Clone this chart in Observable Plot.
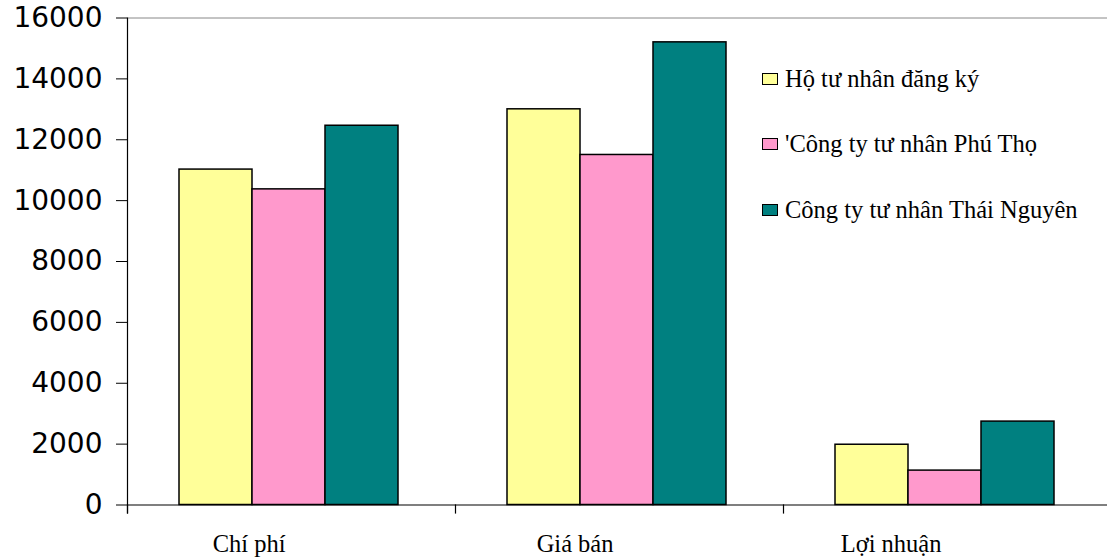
<!DOCTYPE html>
<html><head><meta charset="utf-8">
<script src="https://cdn.jsdelivr.net/npm/d3@7"></script>
<script src="https://cdn.jsdelivr.net/npm/@observablehq/plot@0.6"></script>
<style>
html,body{margin:0;padding:0;background:#fff;overflow:hidden}
#wrap{position:relative;width:1107px;height:560px;overflow:hidden}
#legend{position:absolute;left:762px;top:46px;font-family:"Liberation Serif","Times New Roman",serif;font-size:24.5px;color:#000}
.row{display:flex;align-items:center;height:65.5px;white-space:pre}
.sw{width:14px;height:10px;border:1.5px solid #000;margin-right:7px;flex:none}
</style></head><body><div id="wrap"><div id="legend"></div></div>
<script>
const categories = ["Chí phí", "Giá bán", "Lợi nhuận"];
const series = ["Hộ tư nhân đăng ký", "'Công ty tư nhân Phú Thọ", "Công ty tư nhân Thái Nguyên"];
const valuesHo = [11020, 13000, 1980];
const valuesPhuTho = [10370, 11500, 1130];
const valuesThaiNguyen = [12460, 15200, 2740];
const yTicks = [0, 2000, 4000, 6000, 8000, 10000, 12000, 14000, 16000];
const colors = ["#FFFF99", "#FF99CC", "#008080"];

const seriesValues = [valuesHo, valuesPhuTho, valuesThaiNguyen];
const data = [];
categories.forEach((c, i) => series.forEach((s, j) => data.push({category: c, series: s, value: seriesValues[j][i]})));

const W = 1107, H = 560, mT = 17.5, mB = 55.5, mL = 126, mR = -5;
const innerH = H - mT - mB;

const chart = Plot.plot({
  width: W, height: H,
  marginLeft: mL, marginRight: mR, marginTop: mT, marginBottom: mB,
  style: {background: "transparent", overflow: "visible"},
  fx: {domain: categories, padding: 0},
  x: {domain: series, paddingInner: 0, paddingOuter: 0.742, align: 0.48, axis: null},
  y: {domain: [0, 16000]},
  color: {domain: series, range: colors},
  marks: [
    Plot.ruleY([16000], {stroke: "#888", strokeWidth: 1}),
    Plot.ruleY([0], {stroke: "#000", strokeWidth: 1.2}),
    Plot.barY(data, {fx: "category", x: "series", y: "value", fill: "series", stroke: "#000", strokeWidth: 1.5}),
    Plot.frame({anchor: "left", facetAnchor: "left", insetBottom: -8, stroke: "#000", strokeWidth: 1.2}),
    Plot.frame({anchor: "left", insetTop: innerH, insetBottom: -8, stroke: "#000", strokeWidth: 1.2}),
    Plot.axisY({ticks: yTicks, tickSize: 11, tickPadding: 14, tickFormat: d => String(d), fontSize: 28, fontFamily: "DejaVu Sans", label: null, stroke: "#000"}),
    Plot.axisFx({anchor: "bottom", tickSize: 0, tickPadding: 29.5, textAnchor: "end", dx: -6, fontSize: 24.5, fontFamily: "Liberation Serif", label: null})
  ]
});
chart.style.position = "absolute";
chart.style.left = "0";
chart.style.top = "0";
const wrap = document.getElementById("wrap");
wrap.insertBefore(chart, wrap.firstChild);

const legend = document.getElementById("legend");
series.forEach((s, j) => {
  const row = document.createElement("div");
  row.className = "row";
  const sw = document.createElement("div");
  sw.className = "sw";
  sw.style.background = colors[j];
  const t = document.createElement("span");
  t.textContent = s;
  row.appendChild(sw);
  row.appendChild(t);
  legend.appendChild(row);
});
</script></body></html>
